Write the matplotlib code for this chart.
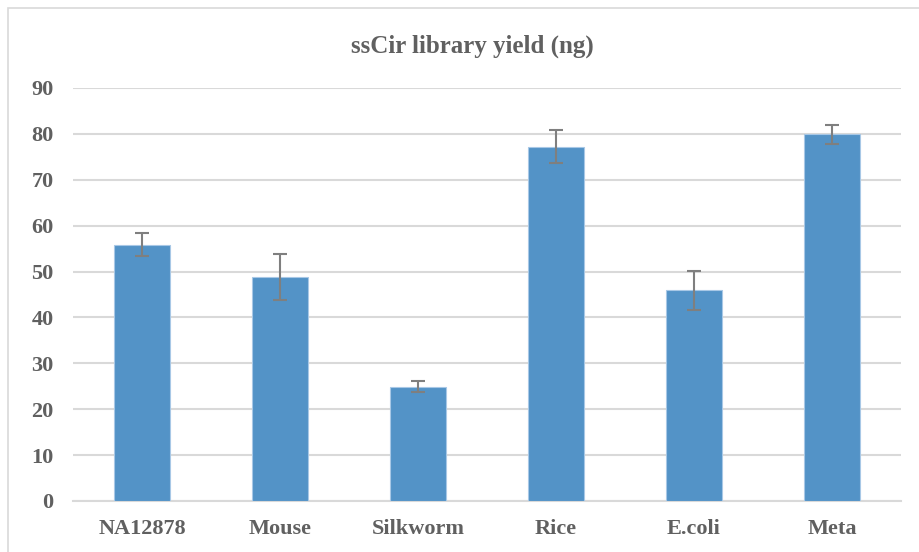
import matplotlib.pyplot as plt
import matplotlib.patches as patches
import numpy as np

samples = ['NA12878', 'Mouse', 'Silkworm', 'Rice', 'E.coli', 'Meta']
yield_ng = [55.8, 48.8, 24.9, 77.2, 45.9, 79.9]
yield_err = [2.5, 5.1, 1.2, 3.6, 4.2, 2.1]

plt.rcParams['font.family'] = ['Liberation Serif']
plt.rcParams['font.weight'] = 'bold'
txt = '#606060'

fig = plt.figure(figsize=(9.2, 5.52), dpi=100)
ax = fig.add_axes([73/920, 1-501/552, 828/920, 413/552])

# outer chart frame
fig.patches.append(patches.Rectangle((8/920, -0.01), 1.0, 1-8/552+0.01,
                                     transform=fig.transFigure, fill=False,
                                     edgecolor='#d9d9d9', lw=1.2))

x = np.arange(len(samples))
ax.bar(x, yield_ng, width=0.4, color='#5393c7', edgecolor='#a8c8e6', lw=0.8, zorder=3)
ax.errorbar(x, yield_ng, yerr=yield_err, fmt='none', ecolor='#7f7f7f',
            elinewidth=1.5, capsize=5, capthick=1.5, zorder=4)

ax.set_xlim(-0.5, len(samples) - 0.5)
ax.set_ylim(0, 90)
ax.set_yticks(np.arange(0, 91, 10))
ax.yaxis.grid(True, color='#d9d9d9', lw=1.5, zorder=0)
ax.set_axisbelow(True)
for s in ['top', 'right', 'left']:
    ax.spines[s].set_visible(False)
ax.spines['bottom'].set_color('#d9d9d9')
ax.spines['bottom'].set_linewidth(1.5)
ax.tick_params(length=0, labelcolor=txt, labelsize=16)
ax.tick_params(axis='y', pad=14)
ax.tick_params(axis='x', pad=13)
ax.set_xticks(x)
ax.set_xticklabels(samples)

fig.text(472/920, 1-46/552, 'ssCir library yield (ng)', ha='center', va='center',
         fontsize=18, color=txt, fontweight='bold')

fig.savefig('out.png', dpi=100)
